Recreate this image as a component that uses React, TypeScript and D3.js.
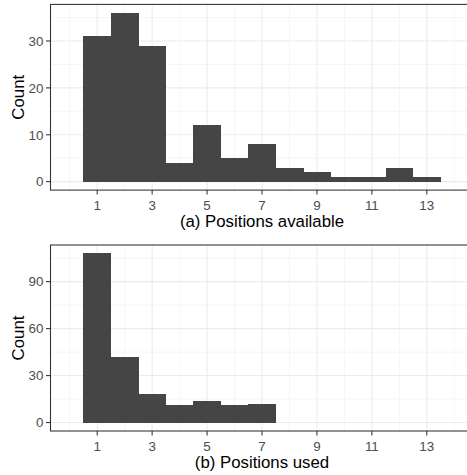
import React from "react";
import * as d3 from "d3";

const positions = [1, 2, 3, 4, 5, 6, 7, 8, 9, 10, 11, 12, 13];
const availableCounts = [31, 36, 29, 4, 12, 5, 8, 3, 2, 1, 1, 3, 1];
const usedPositions = [1, 2, 3, 4, 5, 6, 7];
const usedCounts = [108, 42, 18, 11, 14, 11, 12];
const xTicks = [1, 3, 5, 7, 9, 11, 13];
const xMinor = [0, 2, 4, 6, 8, 10, 12, 14];
const yTicksA = [0, 10, 20, 30];
const yMinorA = [5, 15, 25, 35];
const yTicksB = [0, 30, 60, 90];
const yMinorB = [15, 45, 75, 105];

const W = 467;
const H = 475;
const FONT = "'Liberation Sans', Arial, Helvetica, sans-serif";

type PanelProps = {
  xs: number[];
  counts: number[];
  yMajor: number[];
  yMinor: number[];
  top: number;
  bottom: number;
  title: string;
};

const left = 50.5;
const right = 473.5;
const x = d3.scaleLinear().domain([-0.7, 14.7]).range([left, right]);

function Panel({ xs, counts, yMajor, yMinor, top, bottom, title }: PanelProps) {
  const maxC = d3.max(counts) as number;
  const pad = maxC * 0.05;
  const y = d3.scaleLinear().domain([-pad, maxC + pad]).range([bottom, top]);
  const grid = "#ebebeb";
  return (
    <g>
      <rect x={left} y={top} width={right - left} height={bottom - top} fill="white" />
      {xMinor.map((v) => (
        <line key={"xm" + v} x1={x(v)} x2={x(v)} y1={top} y2={bottom} stroke={grid} strokeWidth={0.55} />
      ))}
      {yMinor.map((v) => (
        <line key={"ym" + v} x1={left} x2={right} y1={y(v)} y2={y(v)} stroke={grid} strokeWidth={0.55} />
      ))}
      {xTicks.map((v) => (
        <line key={"xM" + v} x1={x(v)} x2={x(v)} y1={top} y2={bottom} stroke={grid} strokeWidth={1.07} />
      ))}
      {yMajor.map((v) => (
        <line key={"yM" + v} x1={left} x2={right} y1={y(v)} y2={y(v)} stroke={grid} strokeWidth={1.07} />
      ))}
      <g shapeRendering="crispEdges">
        {xs.map((p, i) => (
          <rect
            key={"b" + p}
            x={x(p - 0.5)}
            width={x(p + 0.5) - x(p - 0.5) + 0.3}
            y={y(counts[i])}
            height={y(0) - y(counts[i])}
            fill="#454545"
          />
        ))}
      </g>
      <rect x={left} y={top} width={right - left} height={bottom - top} fill="none" stroke="#333333" strokeWidth={1.07} />
      {yMajor.map((v) => (
        <g key={"yt" + v}>
          <line x1={left - 4.5} x2={left} y1={y(v)} y2={y(v)} stroke="#333333" strokeWidth={1.07} />
          <text x={left - 7} y={y(v)} dy="0.36em" textAnchor="end" fontSize={13.4} fill="#4d4d4d" fontFamily={FONT}>
            {v}
          </text>
        </g>
      ))}
      {xTicks.map((v) => (
        <g key={"xt" + v}>
          <line x1={x(v)} x2={x(v)} y1={bottom} y2={bottom + 4.5} stroke="#333333" strokeWidth={1.07} />
          <text x={x(v)} y={bottom + 19.5} textAnchor="middle" fontSize={13.4} fill="#4d4d4d" fontFamily={FONT}>
            {v}
          </text>
        </g>
      ))}
      <text
        transform={`translate(23.8,${(top + bottom) / 2}) rotate(-90)`}
        textAnchor="middle"
        fontSize={16.8}
        fill="black"
        fontFamily={FONT}
      >
        Count
      </text>
      <text x={(left + right) / 2} y={bottom + 36.5} textAnchor="middle" fontSize={16.8} fill="black" fontFamily={FONT}>
        {title}
      </text>
    </g>
  );
}

export default function App() {
  return (
    <svg
      width={W}
      height={H}
      style={{ position: "absolute", left: 0, top: 0, background: "white" }}
    >
      <rect x={0} y={0} width={W} height={H} fill="white" />
      <Panel
        xs={positions}
        counts={availableCounts}
        yMajor={yTicksA}
        yMinor={yMinorA}
        top={4.4}
        bottom={190.1}
        title="(a) Positions available"
      />
      <Panel
        xs={usedPositions}
        counts={usedCounts}
        yMajor={yTicksB}
        yMinor={yMinorB}
        top={245}
        bottom={431}
        title="(b) Positions used"
      />
    </svg>
  );
}
